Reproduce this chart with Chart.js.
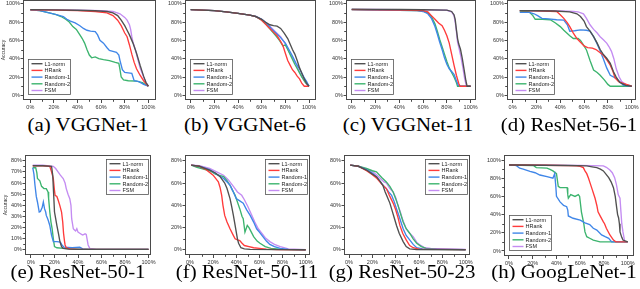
<!DOCTYPE html>
<html><head><meta charset="utf-8">
<script src="https://cdn.jsdelivr.net/npm/chart.js@4.4.1/dist/chart.umd.min.js"></script>
<style>
html,body{margin:0;padding:0;background:#fff;}
body{width:640px;height:289px;overflow:hidden;position:relative;}
.cap{position:absolute;width:220px;text-align:center;font-family:"Liberation Serif","Times New Roman",serif;font-size:18px;line-height:18px;white-space:nowrap;color:#000;transform:scaleX(1.16);transform-origin:50% 50%;}
</style></head><body>
<script>
// ---------- data (x = pruning ratio %, y = accuracy %) ----------
const NAMES = ['L1-norm','HRank','Random-1','Random-2','FSM'];
const X_TICKS = [0,20,40,60,80,100];
const Y_TICKS_100 = [0,20,40,60,80,100];
const Y_TICKS_80_10 = [0,10,20,30,40,50,60,70,80];
const Y_TICKS_80_20 = [0,20,40,60,80];

// (a) VGGNet-1
const a_L1 = [[0,93.5],[20,93.2],[40,92.8],[55,92.3],[65,91.5],[70,90],[74,87],[77,82],[80,76],[82,71],[84,66],[87,57],[90,46],[93,33],[96,21],[98,14],[100,10]];
const a_HRank = [[0,93.3],[20,93],[40,92.5],[55,91.5],[65,90],[70,87],[74,82],[77,76],[80,68],[82,64],[84,55],[86,45],[88,36],[90,29],[93,22],[96,16],[100,10]];
const a_R1 = [[0,93.3],[8,92.5],[16,90],[22,88],[28,86],[31,83],[34,81],[38,79],[42,76],[45,73],[48,71],[51,70],[55,69.5],[57,66],[59,60],[62,57],[65,52],[67,49],[70,48],[73,47],[75,44],[76,38],[78,28],[80,25],[83,24.5],[86,24],[88,16],[92,15],[96,12],[100,10]];
const a_R2 = [[0,93.3],[8,92.5],[16,90],[22,88],[26,86],[30,83],[33,80],[36,75],[39,72],[42,66],[44,62],[46,57],[48,50],[50,44],[52,41],[55,42],[58,40],[62,39],[67,38],[72,36],[75,35],[76,28],[77,20],[79,17],[83,16],[90,15.5],[95,14],[100,10]];
const a_FSM = [[0,93.5],[20,93.3],[40,93],[60,92.5],[70,91.5],[76,89],[80,85],[82,82],[84,77],[85,72],[86,64],[87,58],[89,50],[91,40],[93,30],[96,20],[98,14],[100,10]];

// (b) VGGNet-6
const b_L1 = [[0,93.5],[10,93],[20,92.5],[30,91],[40,89.5],[50,87.5],[55,86],[60,83],[63,80],[67,77],[70,76],[73,75.5],[76,73],[79,68],[82,62],[84,56],[86,50],[88,45],[90,38],[92,30],[94,24],[96,18],[98,13],[100,10]];
const b_HRank = [[0,93.5],[10,93],[20,92.5],[30,91],[40,89.5],[50,87.5],[55,86],[60,82],[63,78],[66,74],[70,69],[73,65],[76,59],[78,54],[80,46],[82,38],[84,33],[86,28],[88,25],[90,21],[92,18],[94,13],[96,10],[100,10]];
const b_R1 = [[0,93.5],[10,93],[20,92.5],[30,91],[40,89.5],[50,87.5],[55,86],[60,83],[64,79],[68,73],[72,68],[76,63],[80,57],[83,50],[86,43],[89,35],[92,29],[94,24],[96,19],[98,15],[100,10]];
const b_R2 = [[0,93.5],[10,93],[20,92.5],[30,91],[40,89.5],[50,87.5],[55,86],[60,82],[64,77],[68,71],[72,65],[75,60],[78,54],[80,55],[82,50],[85,42],[88,34],[91,27],[94,20],[97,14],[100,10]];
const b_FSM = [[0,93.5],[10,93],[20,92.5],[30,91],[40,89.5],[50,87.5],[55,86],[60,83],[64,79],[68,74],[72,69],[76,64],[80,56],[83,48],[86,41],[89,34],[92,25],[95,18],[98,12],[100,10]];

// (c) VGGNet-11
const c_L1 = [[0,94],[20,93.8],[40,93.6],[60,93.4],[80,93],[84,91.5],[86,88],[87,83],[88,72],[89,62],[90,56],[91.5,50],[93,40],[94.5,28],[96,16],[97,10],[100,10]];
const c_HRank = [[0,93.5],[20,93.2],[40,93],[60,92.5],[64,91],[67,87],[70,83],[73,79],[76,76],[78,71],[80,65],[82,57],[84,45],[86,33],[88,22],[90,13],[91,10],[100,10]];
const c_R1 = [[0,93.5],[20,93],[40,92.8],[55,92.5],[60,91.5],[64,89],[67,84],[70,75],[72,67],[74,58],[76,50],[78,41],[80,34],[82,29],[84,26],[86,23],[88,16],[89.6,11],[92,10],[100,10]];
const c_R2 = [[0,93.5],[20,93],[40,92.8],[55,92.5],[60,91.8],[64,90],[67,86],[70,78],[72,70],[74,61],[76,53],[78,45],[80,37],[82,30],[84,25],[86,20],[88,14],[89,10],[100,10]];
const c_FSM = [[0,93.8],[20,93.6],[40,93.4],[60,93.2],[80,92.8],[84,91],[86,87],[87,80],[88,70],[89,58],[90.5,50],[92,41],[93.5,30],[95,18],[96.5,10],[100,10]];

// (d) ResNet-56-1
const d_L1 = [[6,92.5],[20,92.3],[35,92],[48,91],[54,89],[57,86],[60,81],[62,75],[65,70],[68,64],[71,57],[73.5,50],[76,45],[79,40.5],[82,35],[84.6,26],[87,20],[90,14],[95,11],[100,10]];
const d_HRank = [[6,92.5],[20,92.3],[37,91.5],[40,88],[43,84],[46,79],[48,75],[51,68],[54,62],[57,58],[60,54],[63,52],[67,51.5],[70,50],[73,47],[76,44],[79,39],[82,33],[84,27],[86,19],[89,15],[93,13],[100,10]];
const d_R1 = [[6,90.5],[14,90.5],[18,89],[21,87],[24.6,84],[30,83.5],[37,82.5],[43,82],[46,77],[48,70],[52,70.5],[57,71.5],[62,71],[65,70],[68,64],[70.7,57],[73,50],[76,40.5],[79,30],[82,22],[87,18.6],[90,15],[93,11],[100,10]];
const d_R2 = [[6,92],[14,91],[17,87],[19,83],[25,83],[31.6,82.5],[36,79],[40,75],[43,71],[45.5,68],[48,65],[51,62],[55,62],[57,60],[60,54],[62,49.6],[65,38],[68,27.7],[71,25],[73.5,22],[77,17],[80,12],[82,10],[100,10]];
const d_FSM = [[6,92.5],[20,92.3],[40,92],[51,91.5],[55,91],[59.5,89],[62,84],[65,77],[68,72],[71,68],[73.5,64],[76,61],[79,57],[81,53],[83,48],[85,40],[87,29],[89.5,20],[91.6,15],[95,12],[100,10]];

// (e) ResNet-50-1
const e_L1 = [[1.5,75.5],[10,75.5],[17.5,75],[18.5,67],[19.5,45],[20,34],[21,28],[22,22],[23.5,14],[24.6,7.5],[26,3],[27.4,1.5],[32,0.8],[40,0.5],[100,0.5]];
const e_HRank = [[1.5,75.5],[10,75.5],[16,75],[17.5,70],[19,64],[19.8,55],[20.5,49],[22,48],[23,45],[24.5,40],[26,34],[27,25],[27.7,15],[28.5,8],[29,4.5],[30,2],[33,1],[40,0.5],[100,0.5]];
const e_R1 = [[1.5,73.7],[2.5,68],[3.4,58],[4.5,48],[5.5,43],[7,34],[8,34.5],[9.5,38],[10.5,43],[11.5,37],[12.5,34],[13,31],[14.5,27],[16,22],[17.5,13],[19,7.5],[22,7.5],[25,7],[26,5],[28,2.5],[35,2],[41.5,2.4],[44,1],[50,0.5],[100,0.5]];
const e_R2 = [[1.5,73.7],[4,73.7],[5,69],[5.5,64],[7.5,62],[9,57],[11,55],[13,55],[14.5,52],[15,46],[16,34],[17,25],[18,19],[19,10],[20,3],[22,2],[28,1.5],[35,1],[45,0.5],[100,0.5]];
const e_FSM = [[1.5,76],[10,76],[19,75],[21,73],[23,70],[25,67],[27.4,64],[29,60],[30,55],[31.5,50],[33,46],[34,40],[34.6,28],[36,19],[37,18],[38,17],[39,19],[40,16],[41.5,15],[43,14],[44,13.4],[46,14.5],[47,14],[48.6,4.5],[50,1.5],[55,0.8],[65,0.5],[100,0.5]];

// (f) ResNet-50-11
const f_L1 = [[1,76],[8,75],[17,71.6],[22,69],[26,65.7],[30,60],[32,55],[34.6,46],[36,39],[37.5,31],[39,22],[40,16],[41,10],[42,6],[44,2],[47,1],[52,0.5],[100,0.2]];
const f_HRank = [[1,76],[8,75],[14,72],[20,67],[24.5,61],[26,56],[27.4,49],[28.5,40],[30,31],[32,25],[34.6,19],[37,14],[39,10],[41,9],[43,8.5],[45,6],[47,4],[51,3],[55,2],[60,1.5],[66,0.7],[75,0.3],[100,0.2]];
const f_R1 = [[1,76],[8,75],[17,72],[23,68],[29,64],[32,61],[34.6,58],[37,53],[40,46],[43,44],[46,42],[49,36],[52,31],[55,25],[57.6,19],[60,16],[63,12],[66,8],[69,5],[73,3],[78,1.5],[85,0.5],[100,0.2]];
const f_R2 = [[1,76],[6,74],[10,73],[17,71],[22,68],[29,65.7],[32,62],[34.6,58],[37,53],[39,49],[41,43],[43,37],[45,30],[46,28],[47.5,16],[49.5,22],[51,20],[52,18],[55,12],[58,8],[60.5,6],[65,3],[70,1.5],[80,0.5],[100,0.2]];
const f_FSM = [[1,76],[8,75.5],[17,73],[23,70],[29,67],[33,63],[37.5,57],[41,52],[44.7,49],[47,45],[50,39],[53,32],[56,25],[59,19],[62,15],[65,11],[69,7.5],[73,5],[78,3],[85,1],[100,0.3]];

// (g) ResNet-50-23
const g_L1 = [[1,76],[8,75],[15,71.6],[20,68],[23.5,65.7],[27,61],[29,58],[31,52],[33,47],[35,42],[37,35],[39,28],[40.7,22],[43,15],[46.4,7.5],[49,3],[52,1],[58,0.3],[100,0.2]];
const g_HRank = [[1,76],[8,75],[15,71],[20,67.5],[24,64],[28,59],[32,55],[35,48],[37.8,42],[40,36],[42,29],[43.6,22],[46,15],[49,9],[52,4],[55,2],[60,0.7],[100,0.3]];
const g_R1 = [[1,76],[8,75],[15,72],[20,69],[24,65],[27,61],[30,57],[32,55],[34,52],[36.5,49],[38.5,44],[40.7,37],[43,30],[44.5,25],[46.4,19],[49,13],[52,9],[55,5],[58,2],[63,1],[100,0.3]];
const g_R2 = [[1,76],[8,75],[15,73],[20,71],[23.5,70],[28,65],[32,61],[35,57],[37.8,52],[40,46],[42,40],[44,33],[46.4,25],[49,19],[52,15],[55,10],[58,6],[62,3],[66,1.5],[75,0.5],[100,0.3]];
const g_FSM = [[1,76],[8,75],[15,72],[20,70.5],[24,67],[28,63],[30,61],[32,60],[35,55],[37.8,52],[40,47],[42,40],[44,34],[46,27],[49,19],[52,15],[55,12],[58,7],[60.7,4.5],[65,2],[70,1.5],[80,1],[100,0.4]];

// (h) GoogLeNet-1
const h_L1 = [[0,94.5],[30,94.2],[50,94],[65.5,93.5],[70,92.5],[74,91.6],[77,90],[79.5,88],[82,84],[84,80.6],[86,76],[88,69.6],[89.5,60],[90.7,47.6],[91.5,40],[92.3,36.6],[93,30],[93.5,21],[95,15],[96,12],[100,10]];
const h_HRank = [[0,94.5],[30,94.2],[50,93.8],[57,93.5],[60,93],[62.6,91.6],[64,88],[65.5,85],[67,80],[68,76],[70,68],[72.5,58],[74,50],[75,43],[77,38],[79.5,32],[80.5,30],[82,25],[85,17.6],[88,12],[90,10],[100,10]];
const h_R1 = [[0,94.5],[4,94.3],[6,94],[9,91],[12,90],[17.7,87.5],[22,86],[26,83.5],[32,81.7],[37,80],[38.5,85],[39.5,70],[40,60],[43,54],[46,50],[48.6,48.7],[49.5,45],[50,38.5],[54,36],[60,34],[64,31],[68,29],[71,25],[74,23],[78,17.6],[81,15.7],[84,14],[86.5,10],[100,10]];
const h_R2 = [[0,94.5],[20.5,94],[23,91.6],[32,91],[34.5,89.7],[37,88],[40,85],[41.5,71],[43,69.6],[47,69.6],[49,69.6],[49.5,62],[50,58],[52,62],[55.6,60],[58.4,62],[59.5,60],[61,43],[63,30],[64,21],[65.5,15.7],[68,14],[71,12],[76.7,10],[100,10]];
const h_FSM = [[0,94.5],[30,94.3],[60,94.1],[79.5,93.5],[82,92],[85,89],[87,86],[89,80.6],[90.5,73],[92,62],[93.5,58],[94.3,43],[95,30],[96,21],[97.5,10],[100,10]];

// ---------- styling / layout ----------
const COLORS = ['#505050','#ff3b3b','#3f86e8','#3cb46e','#c48cf2'];
const AXIS_COLOR = '#4a4a4a';
const TICK_FONT = {family:'"Liberation Sans", Arial, sans-serif', size:5.5};
const WY = 23, HX = 14, PADT = 8, PADR = 10;

const panels = [
  {cap:'(a) VGGNet-1', series:[a_L1,a_HRank,a_R1,a_R2,a_FSM], L:23,R:156,T:0,B:100, xr:[-6.2,106.5], yr:[-5,104], yt:Y_TICKS_100, leg:'bl', title:true, cx:88, by:131},
  {cap:'(b) VGGNet-6', series:[b_L1,b_HRank,b_R1,b_R2,b_FSM], L:185,R:316,T:0,B:100, xr:[-4.8,105.9], yr:[-5,104], yt:Y_TICKS_100, leg:'bl', title:false, cx:245, by:131},
  {cap:'(c) VGGNet-11', series:[c_L1,c_HRank,c_R1,c_R2,c_FSM], L:346,R:476,T:0,B:100, xr:[-4.8,104.5], yr:[-5,104], yt:Y_TICKS_100, leg:'bl', title:false, cx:408, by:131},
  {cap:'(d) ResNet-56-1', series:[d_L1,d_HRank,d_R1,d_R2,d_FSM], L:507,R:636,T:0,B:100, xr:[-4.7,103.6], yr:[-5,104], yt:Y_TICKS_100, leg:'bl', title:false, cx:569, by:131},
  {cap:'(e) ResNet-50-1', series:[e_L1,e_HRank,e_R1,e_R2,e_FSM], L:25,R:151,T:155,B:255, xr:[-5.1,102.1], yr:[-4.5,85.1], yt:Y_TICKS_80_10, leg:'tr', title:true, cx:78, by:278},
  {cap:'(f) ResNet-50-11', series:[f_L1,f_HRank,f_R1,f_R2,f_FSM], L:185,R:310,T:155,B:255, xr:[-4.3,103.7], yr:[-4.5,85.1], yt:Y_TICKS_80_20, leg:'tr', title:false, cx:247, by:278},
  {cap:'(g) ResNet-50-23', series:[g_L1,g_HRank,g_R1,g_R2,g_FSM], L:344,R:470,T:155,B:255, xr:[-4.3,103.7], yr:[-4.5,85.1], yt:Y_TICKS_80_20, leg:'tr', title:false, cx:402, by:278},
  {cap:'(h) GoogLeNet-1', series:[h_L1,h_HRank,h_R1,h_R2,h_FSM], L:504,R:634,T:155,B:256, xr:[-4.2,105.3], yr:[-5.5,105.5], yt:Y_TICKS_100, leg:'bl', title:false, cx:564, by:278}
];

const framePlugin = {
  id: 'frameLegend',
  afterDatasetsDraw(chart, args, opts) {
    const {ctx, chartArea: a, scales} = chart;
    ctx.save();
    ctx.strokeStyle = AXIS_COLOR; ctx.lineWidth = 1;
    ctx.strokeRect(a.left + 0.5, a.top + 0.5, a.right - a.left - 1, a.bottom - a.top - 1);
    ctx.beginPath();
    const xt = opts.xt, yt = opts.yt;
    for (let i = 0; i < xt.length - 1; i++) {
      const px = Math.round(scales.x.getPixelForValue((xt[i] + xt[i+1]) / 2)) + 0.5;
      ctx.moveTo(px, a.bottom); ctx.lineTo(px, a.bottom + 1.8);
    }
    for (let i = 0; i < yt.length - 1; i++) {
      const py = Math.round(scales.y.getPixelForValue((yt[i] + yt[i+1]) / 2)) + 0.5;
      ctx.moveTo(a.left, py); ctx.lineTo(a.left - 1.8, py);
    }
    ctx.stroke();
    const w = 42, h = 35;
    let lx, ly;
    if (opts.pos === 'bl') { lx = a.left + 5; ly = a.bottom - 6.5 - h; }
    else { lx = a.right - 3 - w; ly = a.top + 4; }
    lx = Math.round(lx) + 0.5; ly = Math.round(ly) + 0.5;
    ctx.fillStyle = '#ffffff';
    ctx.fillRect(lx, ly, w, h);
    ctx.strokeStyle = '#555'; ctx.lineWidth = 0.8;
    ctx.strokeRect(lx, ly, w, h);
    ctx.font = '5.5px "Liberation Sans", Arial, sans-serif';
    ctx.textBaseline = 'middle'; ctx.textAlign = 'left';
    chart.data.datasets.forEach((ds, i) => {
      const y = ly + 4.2 + i * 6.7;
      ctx.strokeStyle = ds.borderColor; ctx.lineWidth = 1.4;
      ctx.beginPath(); ctx.moveTo(lx + 3, y); ctx.lineTo(lx + 14, y); ctx.stroke();
      ctx.fillStyle = '#222';
      ctx.fillText(ds.label, lx + 16, y + 0.3);
    });
    ctx.restore();
  }
};

panels.forEach(p => {
  const cl = p.L - WY, ct = p.T - PADT;
  const w = (p.R + PADR) - cl, h = (p.B + HX) - ct;
  const cv = document.createElement('canvas');
  cv.width = w; cv.height = h;
  cv.style.cssText = `position:absolute;left:${cl}px;top:${ct}px;width:${w}px;height:${h}px;`;
  document.body.appendChild(cv);

  const datasets = p.series.map((s, i) => ({
    label: NAMES[i],
    data: s.map(pt => ({x: pt[0], y: pt[1]})),
    borderColor: COLORS[i],
    backgroundColor: COLORS[i],
    borderWidth: 1.35,
    pointRadius: 0,
    tension: 0,
    fill: false
  }));

  new Chart(cv, {
    type: 'line',
    data: {datasets},
    plugins: [framePlugin],
    options: {
      responsive: false,
      animation: false,
      devicePixelRatio: 1,
      events: [],
      layout: {padding: {left: 0, right: PADR, top: PADT, bottom: 0}},
      plugins: {
        legend: {display: false},
        tooltip: {enabled: false},
        frameLegend: {pos: p.leg, xt: X_TICKS, yt: p.yt}
      },
      scales: {
        x: {
          type: 'linear', min: p.xr[0], max: p.xr[1],
          afterBuildTicks: s => { s.ticks = X_TICKS.map(v => ({value: v})); },
          afterFit: s => { s.height = HX; },
          border: {display: false},
          grid: {drawOnChartArea: false, drawTicks: true, tickLength: 3, color: AXIS_COLOR, lineWidth: 1},
          ticks: {font: TICK_FONT, color: '#333', padding: 1.2, maxRotation: 0, autoSkip: false, callback: v => v + '%'}
        },
        y: {
          type: 'linear', min: p.yr[0], max: p.yr[1],
          afterBuildTicks: s => { s.ticks = p.yt.map(v => ({value: v})); },
          afterFit: s => { s.width = WY; },
          border: {display: false},
          grid: {drawOnChartArea: false, drawTicks: true, tickLength: 2.5, color: AXIS_COLOR, lineWidth: 1},
          ticks: {font: TICK_FONT, color: '#333', padding: 0.5, autoSkip: false, callback: v => v + '%'},
          title: {display: p.title, text: 'Accuracy', font: {family: '"Liberation Sans", Arial, sans-serif', size: 5}, color: '#333', padding: {top: 0.5, bottom: 0}}
        }
      }
    }
  });

  const d = document.createElement('div');
  d.className = 'cap';
  d.textContent = p.cap;
  d.style.left = (p.cx - 110) + 'px';
  d.style.top = (p.by - 15.1) + 'px';
  document.body.appendChild(d);
});
</script>
</body></html>
